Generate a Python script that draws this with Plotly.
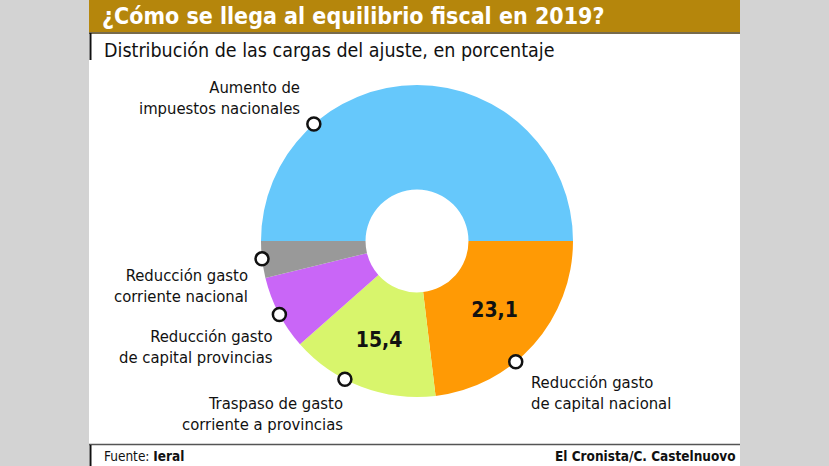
import plotly.graph_objects as go
import math

# ---- data ----
categories = [
    "Aumento de impuestos nacionales",
    "Reducción gasto de capital nacional",
    "Traspaso de gasto corriente a provincias",
    "Reducción gasto de capital provincias",
    "Reducción gasto corriente nacional",
]
values = [50.0, 23.1, 15.4, 7.7, 3.8]
show_value = [False, True, True, False, False]
label_lines = [
    "Aumento de<br>impuestos nacionales",
    "Reducción gasto<br>de capital nacional",
    "Traspaso de gasto<br>corriente a provincias",
    "Reducción gasto<br>de capital provincias",
    "Reducción gasto<br>corriente nacional",
]
# where along each slice (0..1) the marker dot sits
dot_fraction = [0.27, 0.61, 0.62, 0.48, 0.52]
colors = ["#66c8fb", "#ff9a05", "#d8f56c", "#c966f7", "#999999"]

W, H = 829, 466
FONT = "DejaVu Sans Condensed, DejaVu Sans, sans-serif"

# donut geometry (pixels)
cx, cy, R = 417, 241, 156
hole = 0.33

text = [(f"{v:.1f}".replace(".", ",") if s else "") for v, s in zip(values, show_value)]

fig = go.Figure()
fig.add_trace(go.Pie(
    labels=categories, values=values, sort=False, direction="clockwise",
    rotation=270, hole=hole,
    marker=dict(colors=colors, line=dict(width=0)),
    text=text, textinfo="text", textposition="inside",
    insidetextorientation="horizontal",
    textfont=dict(family=FONT, size=21, color="#111111", weight="bold"),
    domain=dict(x=[(cx - R) / W, (cx + R) / W], y=[1 - (cy + R) / H, 1 - (cy - R) / H]),
    showlegend=False, hoverinfo="label+value",
))

# dots on the outer edge, computed from slice angles
total = sum(values)
start = 180.0  # degrees (9 o'clock), going clockwise
cum = 0.0
dot_r = 6.5
dots = []
for v, f in zip(values, dot_fraction):
    ang = start - 360.0 * (cum + f * v) / total
    px = cx + R * math.cos(math.radians(ang))
    py = cy - R * math.sin(math.radians(ang))
    dots.append(dict(type="circle", xref="x", yref="y",
                     x0=px - dot_r, x1=px + dot_r, y0=py - dot_r, y1=py + dot_r,
                     fillcolor="white", line=dict(color="#111111", width=2.5), layer="above"))
    cum += v

# external labels
label_pos = [
    (302, 98, "right"),
    (529, 393, "left"),
    (345, 414, "right"),
    (275, 347, "right"),
    (250, 286, "right"),
]
annotations = []
for (x, y, al), t in zip(label_pos, label_lines):
    annotations.append(dict(
        x=x, y=y, xref="x", yref="y", text=t, showarrow=False,
        xanchor=al, yanchor="middle", align=al,
        font=dict(family=FONT, size=16.5, color="#111111"),
    ))

# title / subtitle / footer
annotations += [
    dict(x=100, y=16, xref="x", yref="y", xanchor="left", yanchor="middle",
         text="<b>¿Cómo se llega al equilibrio fiscal en 2019?</b>", showarrow=False,
         font=dict(family=FONT, size=23, color="white")),
    dict(x=102, y=50, xref="x", yref="y", xanchor="left", yanchor="middle",
         text="Distribución de las cargas del ajuste, en porcentaje", showarrow=False,
         font=dict(family=FONT, size=19.5, color="#111111")),
    dict(x=102, y=456, xref="x", yref="y", xanchor="left", yanchor="middle",
         text="Fuente: <b>Ieral</b>", showarrow=False,
         font=dict(family=FONT, size=13.5, color="#111111")),
    dict(x=738, y=456, xref="x", yref="y", xanchor="right", yanchor="middle",
         text="<b>El Cronista/C. Castelnuovo</b>", showarrow=False,
         font=dict(family=FONT, size=13.5, color="#111111")),
]

shapes = [
    # gray side margins
    dict(type="rect", xref="x", yref="y", x0=0, x1=89, y0=0, y1=H, fillcolor="#d3d3d3", line_width=0, layer="below"),
    dict(type="rect", xref="x", yref="y", x0=740, x1=W, y0=0, y1=H, fillcolor="#d3d3d3", line_width=0, layer="below"),
    # title bar
    dict(type="rect", xref="x", yref="y", x0=89, x1=740, y0=0, y1=32, fillcolor="#b5860c", line_width=0, layer="below"),
    dict(type="line", xref="x", yref="y", x0=89, x1=740, y0=33, y1=33, line=dict(color="#4a3a10", width=1.5)),
    # left rule under title
    dict(type="line", xref="x", yref="y", x0=90.5, x1=90.5, y0=33, y1=60, line=dict(color="#111111", width=2)),
    # footer rules
    dict(type="line", xref="x", yref="y", x0=89, x1=740, y0=444.5, y1=444.5, line=dict(color="#555555", width=1.5)),
    dict(type="line", xref="x", yref="y", x0=90.5, x1=90.5, y0=445, y1=H, line=dict(color="#111111", width=2)),
] + dots

fig.update_layout(
    width=W, height=H, margin=dict(l=0, r=0, t=0, b=0),
    paper_bgcolor="white", plot_bgcolor="rgba(0,0,0,0)",
    xaxis=dict(range=[0, W], visible=False, fixedrange=True),
    yaxis=dict(range=[H, 0], visible=False, fixedrange=True),
    annotations=annotations, shapes=shapes,
    font=dict(family=FONT),
)

fig.write_html(
    "out.html",
    post_script="document.body.style.margin='0';document.body.style.padding='0';document.body.style.overflow='hidden';",
    config={"displayModeBar": False},
)
